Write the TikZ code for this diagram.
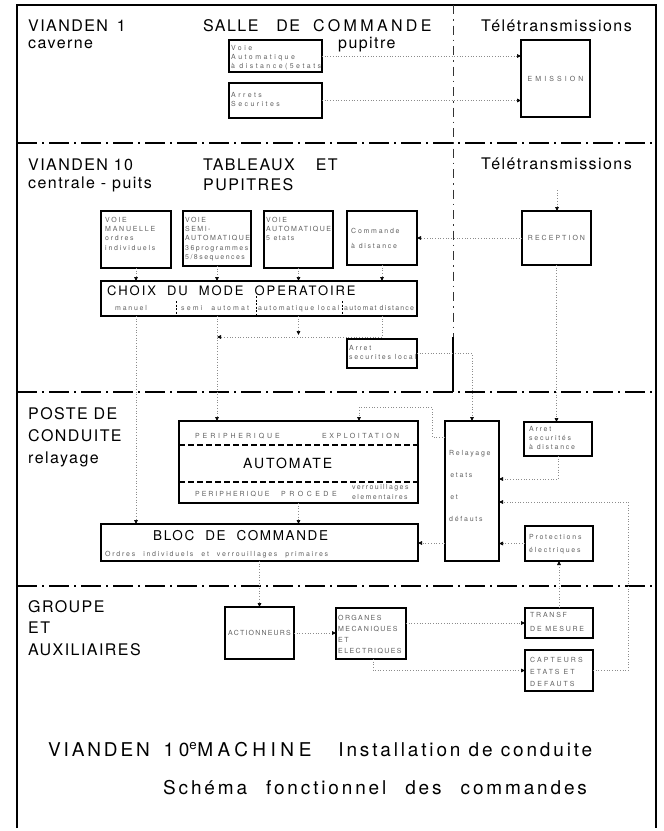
\documentclass[tikz,border=0pt]{standalone}
\usepackage{fontspec}
\setmainfont{TeX Gyre Heros}
\newfontfamily\hdfont[LetterSpace=9]{TeX Gyre Heros}
\newfontfamily\smfont[LetterSpace=25]{TeX Gyre Heros}
\newfontfamily\ttlfont[LetterSpace=15]{TeX Gyre Heros}
\newfontfamily\chfont[LetterSpace=15]{TeX Gyre Heros}
\usetikzlibrary{arrows.meta,calc}
\newcommand\wg[1]{\hspace*{#1pt}}
\newcommand\ls[1]{\addfontfeature{LetterSpace=#1}}
\newcommand\bx[5]{\node[bx,minimum width={(#4-#2)*1pt},minimum height={(#5-#3)*1pt}] (#1) at ({(#2+#4)/2},{(#3+#5)/2}) {};}
\begin{document}
\begin{tikzpicture}[x=1pt,y=-1pt,
  bx/.style={draw=black,line width=1.1pt,inner sep=0pt,outer sep=0pt,rectangle},
  lab/.style={inner sep=0pt,anchor=north west,align=left,text=black!62,font=\smfont\fontsize{7}{9.2}\selectfont},
  clab/.style={inner sep=0pt,text=black!62,font=\smfont\fontsize{7}{9.2}\selectfont},
  head/.style={inner sep=0pt,anchor=base west,font=\hdfont\fontsize{16}{20}\selectfont},
  mid/.style={inner sep=0pt,anchor=base west,font=\hdfont\fontsize{13.5}{16}\selectfont},
  ttl/.style={inner sep=0pt,anchor=base west,font=\ttlfont\fontsize{19}{24}\selectfont},
  conn/.style={draw=black!45,line width=0.7pt,dotted,-{Triangle[length=4pt,width=3.6pt,color=black]}},
  sep/.style={draw=black,line width=1.2pt,dash pattern=on 20pt off 5pt on 2pt off 5pt},
  vsep/.style={draw=black!80,line width=1pt,dash pattern=on 9pt off 5pt on 1.5pt off 5pt},
  dsh/.style={draw=black,line width=1.3pt,dash pattern=on 6pt off 3pt},
  div/.style={draw=black,line width=1pt,dash pattern=on 2pt off 1.5pt},
]
\useasboundingbox (0,0) rectangle (664,831);
% frame and separators
\draw[line width=1.2pt] (17,828) -- (17,5) -- (656,5) -- (656,828);
\draw[sep] (17,143) -- (656,143);
\draw[sep] (17,392) -- (656,392);
\draw[sep] (17,586) -- (656,586);
\draw[vsep] (453,5) -- (453,337);
\draw[line width=1.3pt] (453,337) -- (453,392);

% headings
\node[head] (h1) at (28,31) {VIANDEN\wg{9}1};
\node[head] (h1b) at (28,48) {caverne};
\node[head] (h2) at (203,31) {SALLE\wg{18}DE\wg{13}{\ls{21}COMMANDE}};
\node[head] (h2b) at (338,48) {pupitre};
\node[head] (h3) at (481,31) {Télétransmissions};
\node[head] (h4) at (28,170) {VIANDEN 10};
\node[head] (h4b) at (28,188) {centrale - puits};
\node[head] (h5) at (203,170) {TABLEAUX\wg{21}ET};
\node[head] (h5b) at (203,190) {PUPITRES};
\node[head] (h6) at (481,169) {Télétransmissions};
\node[head] (h7) at (28,419) {POSTE DE};
\node[head] (h7b) at (28,441) {CONDUITE};
\node[head] (h7c) at (28,463) {relayage};
\node[head] (h8) at (28,612) {GROUPE};
\node[head] (h8b) at (28,633) {ET};
\node[head] (h8c) at (28,655) {AUXILIAIRES};
\node[ttl] (t1) at (48,756) {VIANDEN\wg{14}{\ls{24}10\textsuperscript{e}MACHINE}\wg{27}{\ls{15}Installation de conduite}};
\node[ttl] (t2) at (163,794) {Schéma\wg{19}fonctionnel\wg{19}des\wg{19}commandes};

% boxes
\bx{voie}{229}{40}{322}{72}
\bx{arrets}{229}{83}{322}{118}
\bx{emis}{521}{40}{590}{117}
\bx{vm}{101}{211}{171}{268}
\bx{vs}{183}{211}{251}{266}
\bx{va}{264}{211}{333}{268}
\bx{cmd}{347}{211}{417}{265}
\bx{recep}{522}{211}{591}{265}
\bx{choix}{101}{281}{417}{316}
\bx{arl}{347}{339}{417}{368}
\bx{auto}{179}{421}{418}{503}
\bx{relay}{445}{421}{499}{561}
\bx{ard}{524}{422}{592}{456}
\bx{prot}{525}{526}{593}{561}
\bx{bloc}{101}{524}{418}{561}
\bx{act}{225}{607}{294}{659}
\bx{org}{336}{608}{406}{659}
\bx{transf}{525}{608}{593}{638}
\bx{capt}{525}{650}{593}{691}

% box texts
\node[lab,font=\smfont\fontsize{7}{9.2}\selectfont\ls{35}] (voieT) at (231,45) {Voie\\Automatique\\à distance(5etats};
\node[lab,font=\smfont\fontsize{7}{9.2}\selectfont\ls{35}] (arretsT) at (231,92) {Arrets\\Securites};
\node[clab,font=\smfont\fontsize{7}{9}\selectfont\ls{44}] (emisT) at (emis.center) {EMISSION};
\node[lab] (vmT) at (105,217) {VOIE\\MANUELLE\\ordres\\individuels};
\node[lab,font=\smfont\fontsize{7}{9.2}\selectfont\ls{21}] (vsT) at (185,217) {VOIE\\SEMI-\\AUTOMATIQUE\\36programmes\\5/8sequences};
\node[lab,font=\smfont\fontsize{7}{9.2}\selectfont\ls{21}] (vaT) at (266,217) {VOIE\\AUTOMATIQUE\\5 etats};
\node[lab,font=\smfont\fontsize{7}{15}\selectfont] (cmdT) at (351,228) {Commande\\à distance};
\node[clab,font=\smfont\fontsize{7}{9}\selectfont\ls{29}] (recepT) at (recep.center) {RECEPTION};
\node[mid,font=\chfont\fontsize{13}{16}\selectfont] (choixT) at (107,295) {CHOIX\wg{11}DU\wg{11}MODE\wg{11}OPERATOIRE};
\node[clab,anchor=base west] (m1) at (115,310) {manuel};
\node[clab,anchor=base west,font=\smfont\fontsize{7}{9}\selectfont\ls{30}] (m2) at (181,310) {semi\wg{9}automat};
\node[clab,anchor=base west] (m3) at (258,310) {automatique local};
\node[clab,anchor=base west,font=\smfont\fontsize{7}{9}\selectfont\ls{17}] (m4) at (344,310) {automat distance};
\draw[div] (176,301) -- (176,316);
\draw[div] (256,296) -- (256,316);
\draw[div] (342,301) -- (342,316);
\node[lab] (arlT) at (349,345) {Arret\\securites local};
\node[clab,anchor=base west,font=\smfont\fontsize{7}{9}\selectfont\ls{41}] (p1) at (195,438) {PERIPHERIQUE};
\node[clab,anchor=base west,font=\smfont\fontsize{7}{9}\selectfont\ls{36}] (p2) at (322,438) {EXPLOITATION};
\draw[dsh] (179,445) -- (418,445);
\node[mid,font=\hdfont\fontsize{14}{16}\selectfont\ls{14}] (autoT) at (243,468) {AUTOMATE};
\draw[dsh] (179,482) -- (418,482);
\node[clab,anchor=base west,font=\smfont\fontsize{7}{9}\selectfont\ls{28}] (p3) at (195,496) {PERIPHERIQUE};
\node[clab,anchor=base west,font=\smfont\fontsize{7}{9}\selectfont\ls{50}] (p4) at (281,496) {PROCEDE};
\node[lab,font=\smfont\fontsize{7}{10}\selectfont\ls{20}] (p5) at (352,484) {verrouillages\\elementaires};
\node[lab,font=\smfont\fontsize{7}{22}\selectfont] (relayT) at (449,450) {Relayage\\\,etats\\\,et\\défauts};
\node[lab] (ardT) at (529,426) {Arret\\securités\\à distance};
\node[lab,font=\smfont\fontsize{7}{13}\selectfont] (protT) at (529,534) {Protections\\électriques};
\node[mid,font=\hdfont\fontsize{13.5}{16}\selectfont\ls{12}] (blocT) at (153,540) {BLOC\wg{11}DE\wg{11}COMMANDE};
\node[clab,anchor=base west] (blocS) at (105,556) {Ordres\wg{8}individuels\wg{8}et\wg{8}verrouillages\wg{8}primaires};
\node[clab,font=\smfont\fontsize{7}{9}\selectfont\ls{17}] (actT) at (act.center) {ACTIONNEURS};
\node[lab,font=\smfont\fontsize{7}{11}\selectfont\ls{20}] (orgT) at (338,615) {ORGANES\\MECANIQUES\\ET\\ELECTRIQUES};
\node[lab,font=\smfont\fontsize{7}{14}\selectfont] (transfT) at (530,612) {TRANSF\\DE MESURE};
\node[lab,font=\smfont\fontsize{7}{12}\selectfont\ls{30}] (captT) at (530,657) {CAPTEURS\\ETATS\wg{4}ET\\DEFAUTS};

% waypoints
\coordinate (rin) at (557,190);
\coordinate (hlA) at (298.5,335);
\coordinate (hl) at (0,337);
\coordinate (ra) at (432,437);
\coordinate (rb) at (359,407);
\coordinate (rc) at (430,543);
\coordinate (rd) at (0,479);
\coordinate (re) at (628,502);
\coordinate (og) at (373,0);
\coordinate (bl) at (298.5,0);

% connectors
\draw[conn] (voie.east) -- (voie.east -| emis.west);
\draw[conn] (arrets.east) -- (arrets.east -| emis.west);
\draw[conn] (rin) -- (rin |- recep.north);
\draw[conn] (recep.west) -- (recep.west -| cmd.east);
\draw[conn] (vm.south) -- (vm.south |- choix.north);
\draw[conn] (vs.south) -- (vs.south |- choix.north);
\draw[conn] (va.south) -- (va.south |- choix.north);
\draw[conn] (cmd.south) -- (cmd.south |- choix.north);
\draw[conn] (vm.south |- choix.south) -- (vm.south |- bloc.north);
\draw[conn] (vs.south |- choix.south) -- (vs.south |- auto.north);
\draw[conn] (hlA |- choix.south) -- (hlA);
\draw[conn] (cmd.south |- choix.south) |- (vs.south |- hl);
\draw[conn] (arl.east) -| (relay.north);
\draw[conn] (relay.west |- ra) -- (ra) |- (rb) -- (rb |- auto.north);
\draw[conn] (relay.west |- rc) -- (bloc.east |- rc);
\draw[conn] (recep.south) -- (recep.south |- ard.north);
\draw[conn] (ard.south) |- (relay.east |- rd);
\draw[conn] (prot.west) -- (prot.west -| relay.east);
\draw[conn] (transf.north) -- (transf.north |- prot.south);
\draw[conn] (capt.east) -| (re) -- (relay.east |- re);
\draw[conn] (act.north |- bloc.south) -- (act.north);
\draw[conn] (act.east) -- (act.east -| org.west);
\draw[conn] (org.east |- transf.west) -- (transf.west);
\draw[conn] (org.south -| og) |- (capt.west);
\draw[conn] (auto.south -| bl) -- (bl |- bloc.north);
\end{tikzpicture}
\end{document}
